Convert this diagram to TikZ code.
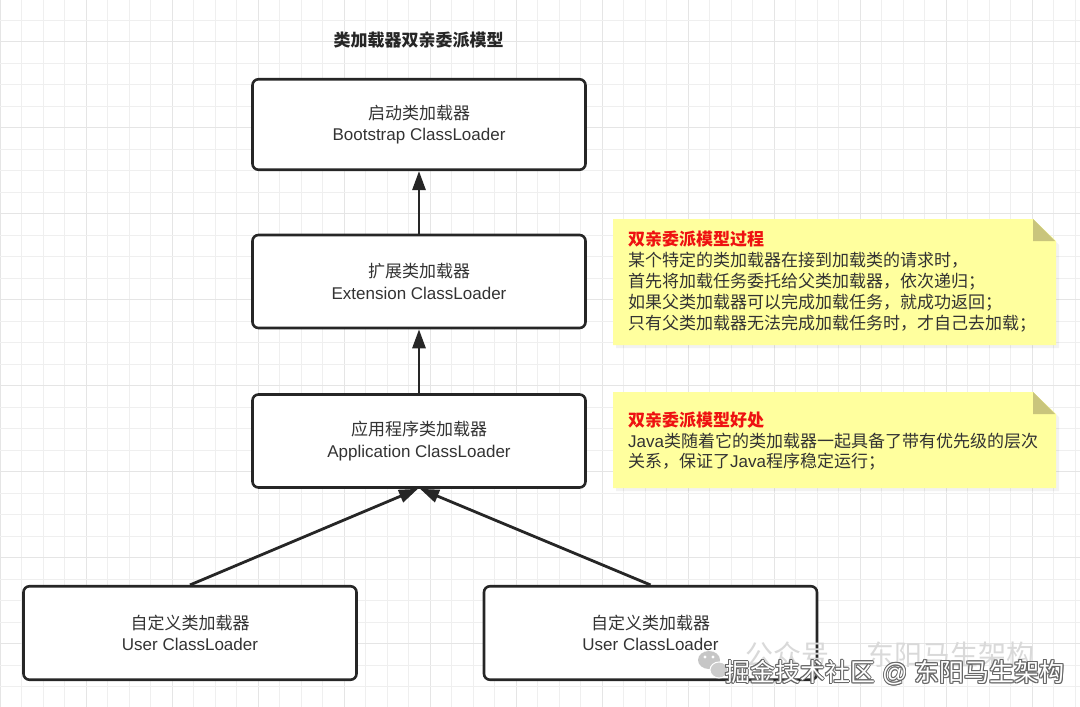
\documentclass[tikz,border=0pt]{standalone}
\usepackage{fontspec}
\setmainfont{Liberation Sans}
\newfontfamily\cjk{Noto Sans CJK SC}
\usetikzlibrary{arrows.meta}
\definecolor{txt}{HTML}{333333}
\definecolor{edge}{HTML}{262626}
\definecolor{notefill}{HTML}{FFFF9E}
\definecolor{foldfill}{HTML}{C9C57C}
\definecolor{gridminor}{HTML}{EFEFEF}
\definecolor{gridmajor}{HTML}{E5E5E5}
\definecolor{notered}{HTML}{EE1111}
\begin{document}
\begin{tikzpicture}[x=1pt,y=-1pt,
  loader/.style={draw=edge, line width=2.6pt, rounded corners=6pt, fill=white,
    minimum width=333pt, align=center, text=txt, inner sep=0pt,
    font=\fontsize{17}{21.5}\selectfont},
  link/.style={draw=edge, line width=2.8pt, -{Triangle[length=19pt,width=13pt]}},
  noteline/.style={anchor=base west, inner sep=0pt, text=txt, font=\fontsize{17}{20}\selectfont\cjk},
  notehead/.style={noteline, text=notered, font=\fontsize{17}{20}\selectfont\cjk\bfseries},
  notebody/.style={fill=notefill},
  notefold/.style={fill=foldfill},
  noteshadow/.style={fill=black, opacity=0.05},
  minorgrid/.style={draw=gridminor, line width=0.8pt},
  majorgrid/.style={draw=gridmajor, line width=1pt},
  wmark/.style={anchor=base west, inner sep=0pt, font=\fontsize{25}{25}\selectfont}
]
\useasboundingbox (0,0) rectangle (1080,707);
\fill[white] (0,0) rectangle (1080,707);
% grid
\foreach \i in {0,...,50} {
  \pgfmathtruncatemacro{\m}{mod(\i,4)}
  \ifnum\m=0 \draw[majorgrid] (\i*21.5,0) -- (\i*21.5,707);
  \else \draw[minorgrid] (\i*21.5,0) -- (\i*21.5,707); \fi
}
\foreach \k in {0,...,33} {
  \pgfmathtruncatemacro{\m}{mod(\k,4)}
  \ifnum\m=2 \draw[majorgrid] (0,-1.5+\k*21.5) -- (1080,-1.5+\k*21.5);
  \else \draw[minorgrid] (0,-1.5+\k*21.5) -- (1080,-1.5+\k*21.5); \fi
}

% title
\node[inner sep=0pt, text=edge, font=\fontsize{17}{20}\selectfont\cjk\bfseries] (title) at (418.5,40) {类加载器双亲委派模型};

% loaders
\node[loader, minimum height=90.5pt] (boot) at (419,124.5) {{\cjk 启动类加载器}\\Bootstrap ClassLoader};
\node[loader, minimum height=93pt] (ext) at (419,281.5) {{\cjk 扩展类加载器}\\Extension ClassLoader};
\node[loader, minimum height=93pt] (app) at (419,441) {{\cjk 应用程序类加载器}\\Application ClassLoader};
\node[loader, minimum height=93.5pt] (user1) at (190,633) {{\cjk 自定义类加载器}\\User ClassLoader};
\node[loader, minimum height=93.5pt] (user2) at (650.5,633) {{\cjk 自定义类加载器}\\User ClassLoader};

% connectors
\draw[link] (ext.north) -- (boot.south);
\draw[link] (app.north) -- (ext.south);
\draw[link] (user1.north) -- ([xshift=-1pt]app.south);
\draw[link] (user2.north) -- ([xshift=1pt]app.south);

% note 1
\fill[noteshadow] (616,222) -- (1036,222) -- (1059,245) -- (1059,348) -- (616,348) -- cycle;
\fill[notebody] (613,219) -- (1033,219) -- (1056,241) -- (1056,345) -- (613,345) -- cycle;
\fill[notefold] (1033,219) -- (1055,241) -- (1033,241) -- cycle;
\node[notehead] (n1h) at (628,245.5) {双亲委派模型过程};
\node[noteline] (n1a) at (628,266.5) {某个特定的类加载器在接到加载类的请求时，};
\node[noteline] (n1b) at (628,287.5) {首先将加载任务委托给父类加载器，依次递归；};
\node[noteline] (n1c) at (628,308.5) {如果父类加载器可以完成加载任务，就成功返回；};
\node[noteline] (n1d) at (628,329.5) {只有父类加载器无法完成加载任务时，才自己去加载；};

% note 2
\fill[noteshadow] (616,395) -- (1036,395) -- (1059,417) -- (1059,491) -- (616,491) -- cycle;
\fill[notebody] (613,392) -- (1033,392) -- (1056,414) -- (1056,488) -- (613,488) -- cycle;
\fill[notefold] (1033,392) -- (1055,414) -- (1033,414) -- cycle;
\node[notehead] (n2h) at (628,426.5) {双亲委派模型好处};
\node[noteline] (n2a) at (628,447) {{\rmfamily Java}类随着它的类加载器一起具备了带有优先级的层次};
\node[noteline] (n2b) at (628,467.5) {关系，保证了{\rmfamily Java}程序稳定运行；};

% watermark
\fill[gray!45] (709,660) ellipse (11 and 9);
\fill[white] (705,657) circle (1.6) (713,657) circle (1.6);
\fill[gray!40, draw=white, line width=1pt] (719,670) ellipse (9 and 8);
\node[wmark, text=gray!30, font=\fontsize{28}{28}\selectfont\cjk] (wm1) at (745,665) {公众号\hspace{37pt}东阳马生架构};
\foreach \dx/\dy [count=\c] in {0.8/0,-0.8/0,0/0.8,0/-0.8,0.6/0.6,-0.6/0.6,0.6/-0.6,-0.6/-0.6} {
  \node[wmark, text=black!60] (wmo\c) at (725+\dx,681.5+\dy) {{\cjk 掘金技术社区} @ {\cjk 东阳马生架构}};
}
\node[wmark, text=white] (wm2) at (725,681.5) {{\cjk 掘金技术社区} @ {\cjk 东阳马生架构}};
\end{tikzpicture}
\end{document}
